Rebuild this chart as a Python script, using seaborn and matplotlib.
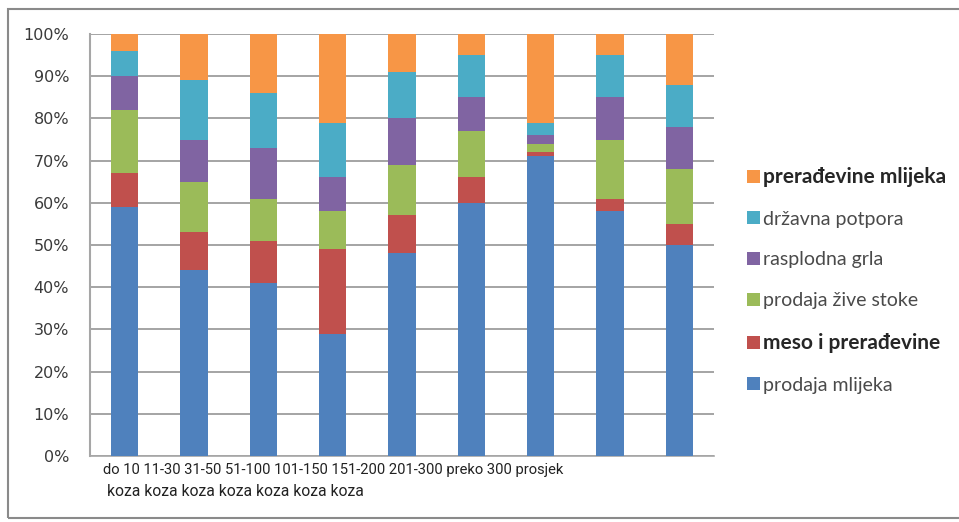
import numpy as np
import pandas as pd
import matplotlib
matplotlib.use("Agg")
import matplotlib.pyplot as plt
from matplotlib.patches import Patch, Rectangle
import seaborn as sns

categories = ["do 10", "11-30", "31-50", "51-100", "101-150",
              "151-200", "201-300", "preko 300", "prosjek"]

# udjeli (%) po kategoriji, odozdo prema gore
prodaja_mlijeka = [59, 44, 41, 29, 48, 60, 71, 58, 50]
meso = [8, 9, 10, 20, 9, 6, 1, 3, 5]
prodaja_zive_stoke = [15, 12, 10, 9, 12, 11, 2, 14, 13]
rasplodna_grla = [8, 10, 12, 8, 11, 8, 2, 10, 10]
drzavna_potpora = [6, 14, 13, 13, 11, 10, 3, 10, 10]
preradevine_mlijeka = [4, 11, 14, 21, 9, 5, 21, 5, 12]

series_names = ["prodaja mlijeka", "meso i prerađevine", "prodaja žive stoke",
                "rasplodna grla", "državna potpora", "prerađevine mlijeka"]
series_values = [prodaja_mlijeka, meso, prodaja_zive_stoke,
                 rasplodna_grla, drzavna_potpora, preradevine_mlijeka]
colors = ["#4F81BD", "#C0504D", "#9BBB59", "#8064A2", "#4BACC6", "#F79646"]

x_line1 = "do 10 11-30 31-50 51-100 101-150 151-200 201-300 preko 300 prosjek"
x_line2 = "koza koza koza koza koza koza koza"

sns.set_style("white")
plt.rcParams['font.family'] = ['DejaVu Sans']

fig = plt.figure(figsize=(9.59, 5.22), dpi=100)
ax = fig.add_axes([90 / 959, 1 - 456 / 522, 624 / 959, 422 / 522])

cum = np.cumsum(np.array(series_values, dtype=float), axis=0)
df = pd.DataFrame(cum.T, columns=series_names)
df["kat"] = categories

# stacking: draw cumulative totals from the top series downwards
for i in range(len(series_names) - 1, -1, -1):
    sns.barplot(data=df, x="kat", y=series_names[i], color=colors[i],
                saturation=1, width=0.39, ax=ax, zorder=3, linewidth=0)

ax.set_xlim(-0.5, len(categories) - 0.5)
ax.set_ylim(0, 100)
ax.set_yticks(np.arange(0, 101, 10))
ax.set_yticklabels([f"{v}%" for v in range(0, 101, 10)], fontsize=11.5,
                   color="#3a3a3a")
ax.set_xticks(np.arange(-0.5, len(categories)), labels=[])
ax.tick_params(axis="x", length=4, color="#999999", direction="out")
ax.tick_params(axis="y", length=7, color="#8c8c8c", direction="out", pad=8)
ax.set_xlabel("")
ax.set_ylabel("")
ax.grid(axis="y", color="#8c8c8c", linewidth=1.1, zorder=0)
ax.set_axisbelow(True)
for s in ["top", "right"]:
    ax.spines[s].set_visible(False)
ax.spines["left"].set_color("#a6a6a6")
ax.spines["left"].set_linewidth(1.5)
ax.spines["bottom"].set_color("#a6a6a6")
ax.spines["bottom"].set_linewidth(1.2)

handles = [Patch(facecolor=colors[i], edgecolor="none") for i in range(5, -1, -1)]
labels = [series_names[i] for i in range(5, -1, -1)]
leg = fig.legend(handles, labels, loc="upper left",
                 bbox_to_anchor=(747 / 959, 1 - 167 / 522), frameon=False,
                 borderpad=0, borderaxespad=0,
                 handlelength=0.65, handleheight=0.65, handletextpad=0.15,
                 labelspacing=1.22, prop={"family": "Lato", "size": 14})
for t in leg.get_texts():
    t.set_color("#4a4a4a")
    if t.get_text() in ("prerađevine mlijeka", "meso i prerađevine"):
        t.set_fontsize(15)
        t.set_fontweight("bold")
        t.set_color("#262626")

fig.text(103 / 959, 1 - 470 / 522, x_line1, family="Roboto", fontsize=10.6,
         color="#222222", va="center", ha="left")
fig.text(107 / 959, 1 - 491 / 522, x_line2, family="Roboto", fontsize=11.3,
         color="#222222", va="center", ha="left")

fig.patches.append(Rectangle((8 / 959, 1 - 518 / 522), 960 / 959, 509 / 522,
                             transform=fig.transFigure, fill=False,
                             edgecolor="#8a8a8a", linewidth=1.5))

fig.savefig("out.png", dpi=100)
